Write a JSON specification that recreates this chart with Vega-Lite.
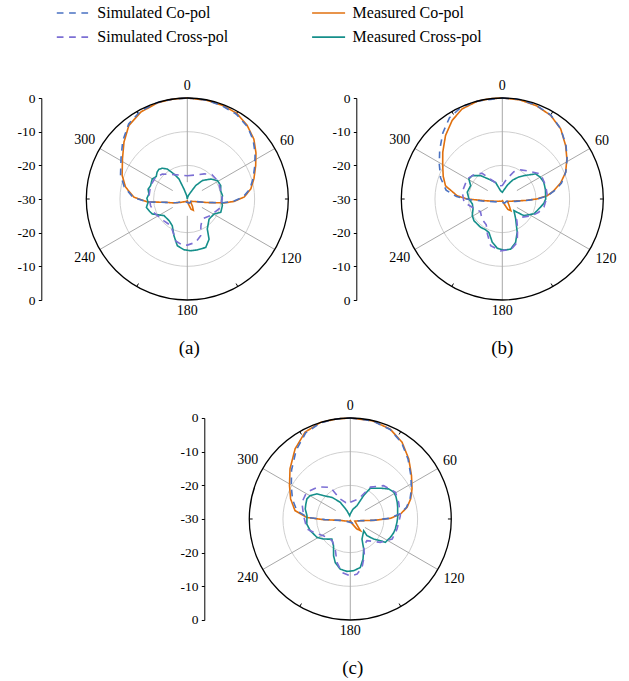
{
"$schema": "https://vega.github.io/schema/vega-lite/v6.json",
"background": "white",
"padding": {"left": 16.3, "top": 1, "right": 2, "bottom": 2},
"config": {
  "view": {"stroke": null},
  "font": "Liberation Serif",
  "title": {"font": "Liberation Serif", "fontSize": 19, "fontWeight": "normal", "color": "black", "anchor": "middle", "frame": "group"},
  "axisY": {"values": [-30,-25,-20,-15,-10,-5,0,5,10,15,20,25,30], "labelExpr": "datum.value % 10 == 0 ? '' + (abs(datum.value) - 30) : ''", "tickSize": 3, "labelPadding": 3.4, "grid": false, "labelFlush": false, "labelOverlap": false, "labelBound": false, "domainColor": "black", "tickColor": "black", "labelColor": "black", "labelFont": "Liberation Serif", "labelFontSize": 13.5, "domainWidth": 1, "tickWidth": 1},
  "legend": {"orient": "none", "legendX": -25, "legendY": -97, "columns": 2, "columnPadding": 79.3, "rowPadding": 4.2, "labelFont": "Liberation Serif", "labelFontSize": 16, "labelColor": "black", "symbolSize": 484, "symbolStrokeWidth": 1.7, "labelOffset": 12, "padding": 0, "labelLimit": 400}
},
"datasets": {
  "rings": [{"ring": -20}, {"ring": -10}, {"ring": 0}],
  "spokes": [{"ang": 0}, {"ang": 60}, {"ang": 120}, {"ang": 180}, {"ang": 240}, {"ang": 300}],
  "ticks": [{"ang": 30}, {"ang": 90}, {"ang": 150}, {"ang": 210}, {"ang": 270}, {"ang": 330}],
  "curves": [
{"p":"a","s":"Measured Co-pol","a":0,"d":0},{"p":"a","s":"Measured Co-pol","a":11,"d":-0.1},{"p":"a","s":"Measured Co-pol","a":21,"d":-0.3},{"p":"a","s":"Measured Co-pol","a":30,"d":-0.6},{"p":"a","s":"Measured Co-pol","a":39,"d":-1.8},{"p":"a","s":"Measured Co-pol","a":48,"d":-3.4},{"p":"a","s":"Measured Co-pol","a":56,"d":-5.4},{"p":"a","s":"Measured Co-pol","a":64,"d":-7.4},{"p":"a","s":"Measured Co-pol","a":73,"d":-9.3},{"p":"a","s":"Measured Co-pol","a":81,"d":-10.9},{"p":"a","s":"Measured Co-pol","a":88,"d":-13.1},{"p":"a","s":"Measured Co-pol","a":93,"d":-16.1},{"p":"a","s":"Measured Co-pol","a":96,"d":-19},{"p":"a","s":"Measured Co-pol","a":100,"d":-23.9},{"p":"a","s":"Measured Co-pol","a":105,"d":-26.9},{"p":"a","s":"Measured Co-pol","a":120,"d":-28.6},{"p":"a","s":"Measured Co-pol","a":135,"d":-28.5},{"p":"a","s":"Measured Co-pol","a":145,"d":-27.3},{"p":"a","s":"Measured Co-pol","a":152,"d":-26.2},{"p":"a","s":"Measured Co-pol","a":160,"d":-26.8},{"p":"a","s":"Measured Co-pol","a":168,"d":-28.5},{"p":"a","s":"Measured Co-pol","a":180,"d":-29.5},{"p":"a","s":"Measured Co-pol","a":200,"d":-29.2},{"p":"a","s":"Measured Co-pol","a":220,"d":-29},{"p":"a","s":"Measured Co-pol","a":243,"d":-27.8},{"p":"a","s":"Measured Co-pol","a":255,"d":-25.5},{"p":"a","s":"Measured Co-pol","a":260.5,"d":-23.9},{"p":"a","s":"Measured Co-pol","a":266,"d":-18},{"p":"a","s":"Measured Co-pol","a":272,"d":-14.1},{"p":"a","s":"Measured Co-pol","a":281,"d":-11.3},{"p":"a","s":"Measured Co-pol","a":290,"d":-9.4},{"p":"a","s":"Measured Co-pol","a":302,"d":-7.3},{"p":"a","s":"Measured Co-pol","a":312,"d":-4.7},{"p":"a","s":"Measured Co-pol","a":321.5,"d":-2.1},{"p":"a","s":"Measured Co-pol","a":332,"d":-0.7},{"p":"a","s":"Measured Co-pol","a":343,"d":-0.1},{"p":"a","s":"Measured Co-pol","a":352,"d":0},
{"p":"a","s":"Measured Cross-pol","a":0,"d":-30},{"p":"a","s":"Measured Cross-pol","a":10,"d":-29.5},{"p":"a","s":"Measured Cross-pol","a":20,"d":-28.7},{"p":"a","s":"Measured Cross-pol","a":26.6,"d":-27.8},{"p":"a","s":"Measured Cross-pol","a":32,"d":-25.3},{"p":"a","s":"Measured Cross-pol","a":39.3,"d":-22.9},{"p":"a","s":"Measured Cross-pol","a":49.4,"d":-20.9},{"p":"a","s":"Measured Cross-pol","a":58.6,"d":-19.5},{"p":"a","s":"Measured Cross-pol","a":68.2,"d":-19.3},{"p":"a","s":"Measured Cross-pol","a":76,"d":-19.8},{"p":"a","s":"Measured Cross-pol","a":84.6,"d":-19.5},{"p":"a","s":"Measured Cross-pol","a":92,"d":-19.8},{"p":"a","s":"Measured Cross-pol","a":100.8,"d":-19.4},{"p":"a","s":"Measured Cross-pol","a":111.8,"d":-19.3},{"p":"a","s":"Measured Cross-pol","a":119.4,"d":-20.9},{"p":"a","s":"Measured Cross-pol","a":132.7,"d":-21.2},{"p":"a","s":"Measured Cross-pol","a":146.3,"d":-19.3},{"p":"a","s":"Measured Cross-pol","a":151.6,"d":-16.4},{"p":"a","s":"Measured Cross-pol","a":159.2,"d":-14.6},{"p":"a","s":"Measured Cross-pol","a":168.8,"d":-14.6},{"p":"a","s":"Measured Cross-pol","a":176.3,"d":-14.6},{"p":"a","s":"Measured Cross-pol","a":183.8,"d":-14.9},{"p":"a","s":"Measured Cross-pol","a":192,"d":-15.8},{"p":"a","s":"Measured Cross-pol","a":200,"d":-18.4},{"p":"a","s":"Measured Cross-pol","a":209.4,"d":-20.9},{"p":"a","s":"Measured Cross-pol","a":220,"d":-21.6},{"p":"a","s":"Measured Cross-pol","a":234.5,"d":-21.5},{"p":"a","s":"Measured Cross-pol","a":246.8,"d":-18.7},{"p":"a","s":"Measured Cross-pol","a":252,"d":-18.2},{"p":"a","s":"Measured Cross-pol","a":258.4,"d":-17.6},{"p":"a","s":"Measured Cross-pol","a":265,"d":-18.3},{"p":"a","s":"Measured Cross-pol","a":271,"d":-18},{"p":"a","s":"Measured Cross-pol","a":277.4,"d":-18.5},{"p":"a","s":"Measured Cross-pol","a":284,"d":-18},{"p":"a","s":"Measured Cross-pol","a":290,"d":-18.4},{"p":"a","s":"Measured Cross-pol","a":299.7,"d":-18},{"p":"a","s":"Measured Cross-pol","a":306,"d":-18.6},{"p":"a","s":"Measured Cross-pol","a":311.6,"d":-18},{"p":"a","s":"Measured Cross-pol","a":316,"d":-17.8},{"p":"a","s":"Measured Cross-pol","a":320.8,"d":-18.2},{"p":"a","s":"Measured Cross-pol","a":326.3,"d":-19.3},{"p":"a","s":"Measured Cross-pol","a":331.9,"d":-21.6},{"p":"a","s":"Measured Cross-pol","a":337.4,"d":-23.5},{"p":"a","s":"Measured Cross-pol","a":341.6,"d":-26.9},{"p":"a","s":"Measured Cross-pol","a":350,"d":-29},
{"p":"a","s":"Simulated Co-pol","a":0,"d":0},{"p":"a","s":"Simulated Co-pol","a":10,"d":-0.1},{"p":"a","s":"Simulated Co-pol","a":20,"d":-0.4},{"p":"a","s":"Simulated Co-pol","a":30,"d":-0.9},{"p":"a","s":"Simulated Co-pol","a":40,"d":-2.1},{"p":"a","s":"Simulated Co-pol","a":48,"d":-3.7},{"p":"a","s":"Simulated Co-pol","a":56,"d":-5.7},{"p":"a","s":"Simulated Co-pol","a":64,"d":-7.7},{"p":"a","s":"Simulated Co-pol","a":73,"d":-9.6},{"p":"a","s":"Simulated Co-pol","a":81,"d":-11.2},{"p":"a","s":"Simulated Co-pol","a":88,"d":-13.4},{"p":"a","s":"Simulated Co-pol","a":93,"d":-16.4},{"p":"a","s":"Simulated Co-pol","a":96,"d":-19.3},{"p":"a","s":"Simulated Co-pol","a":100,"d":-24},{"p":"a","s":"Simulated Co-pol","a":105,"d":-27},{"p":"a","s":"Simulated Co-pol","a":120,"d":-28.7},{"p":"a","s":"Simulated Co-pol","a":150,"d":-28.6},{"p":"a","s":"Simulated Co-pol","a":180,"d":-29},{"p":"a","s":"Simulated Co-pol","a":210,"d":-29},{"p":"a","s":"Simulated Co-pol","a":240,"d":-28.5},{"p":"a","s":"Simulated Co-pol","a":250,"d":-27},{"p":"a","s":"Simulated Co-pol","a":255,"d":-25.6},{"p":"a","s":"Simulated Co-pol","a":261,"d":-23.6},{"p":"a","s":"Simulated Co-pol","a":266,"d":-17.8},{"p":"a","s":"Simulated Co-pol","a":272,"d":-13.8},{"p":"a","s":"Simulated Co-pol","a":281,"d":-10.9},{"p":"a","s":"Simulated Co-pol","a":290,"d":-8.9},{"p":"a","s":"Simulated Co-pol","a":302,"d":-6.8},{"p":"a","s":"Simulated Co-pol","a":312,"d":-4.2},{"p":"a","s":"Simulated Co-pol","a":322,"d":-1.7},{"p":"a","s":"Simulated Co-pol","a":332,"d":-0.4},{"p":"a","s":"Simulated Co-pol","a":343,"d":0},{"p":"a","s":"Simulated Co-pol","a":352,"d":0},
{"p":"a","s":"Simulated Cross-pol","a":0,"d":-23.1},{"p":"a","s":"Simulated Cross-pol","a":20,"d":-22.4},{"p":"a","s":"Simulated Cross-pol","a":34,"d":-21},{"p":"a","s":"Simulated Cross-pol","a":45,"d":-19.7},{"p":"a","s":"Simulated Cross-pol","a":55,"d":-19.6},{"p":"a","s":"Simulated Cross-pol","a":65,"d":-19.6},{"p":"a","s":"Simulated Cross-pol","a":76,"d":-19.8},{"p":"a","s":"Simulated Cross-pol","a":90,"d":-19.6},{"p":"a","s":"Simulated Cross-pol","a":107,"d":-20.1},{"p":"a","s":"Simulated Cross-pol","a":125,"d":-21.5},{"p":"a","s":"Simulated Cross-pol","a":143,"d":-22.6},{"p":"a","s":"Simulated Cross-pol","a":153,"d":-21.1},{"p":"a","s":"Simulated Cross-pol","a":160,"d":-18.4},{"p":"a","s":"Simulated Cross-pol","a":169,"d":-16.9},{"p":"a","s":"Simulated Cross-pol","a":180,"d":-16.3},{"p":"a","s":"Simulated Cross-pol","a":186,"d":-16.2},{"p":"a","s":"Simulated Cross-pol","a":196,"d":-17.1},{"p":"a","s":"Simulated Cross-pol","a":201,"d":-18.8},{"p":"a","s":"Simulated Cross-pol","a":212,"d":-20.7},{"p":"a","s":"Simulated Cross-pol","a":227,"d":-20.5},{"p":"a","s":"Simulated Cross-pol","a":248,"d":-19.3},{"p":"a","s":"Simulated Cross-pol","a":260,"d":-18.9},{"p":"a","s":"Simulated Cross-pol","a":275,"d":-18.6},{"p":"a","s":"Simulated Cross-pol","a":290,"d":-18.4},{"p":"a","s":"Simulated Cross-pol","a":304,"d":-18.6},{"p":"a","s":"Simulated Cross-pol","a":315,"d":-19.5},{"p":"a","s":"Simulated Cross-pol","a":332,"d":-21.8},{"p":"a","s":"Simulated Cross-pol","a":345,"d":-22.7},
{"p":"b","s":"Measured Co-pol","a":0,"d":0},{"p":"b","s":"Measured Co-pol","a":10,"d":-0.1},{"p":"b","s":"Measured Co-pol","a":20,"d":-0.5},{"p":"b","s":"Measured Co-pol","a":30,"d":-1.3},{"p":"b","s":"Measured Co-pol","a":39.8,"d":-2.9},{"p":"b","s":"Measured Co-pol","a":49.9,"d":-5.4},{"p":"b","s":"Measured Co-pol","a":58.1,"d":-7.4},{"p":"b","s":"Measured Co-pol","a":67.2,"d":-9.6},{"p":"b","s":"Measured Co-pol","a":74.5,"d":-12},{"p":"b","s":"Measured Co-pol","a":81.1,"d":-14.6},{"p":"b","s":"Measured Co-pol","a":85.8,"d":-16.6},{"p":"b","s":"Measured Co-pol","a":90,"d":-19.8},{"p":"b","s":"Measured Co-pol","a":93.5,"d":-23},{"p":"b","s":"Measured Co-pol","a":100,"d":-26.5},{"p":"b","s":"Measured Co-pol","a":115,"d":-28.3},{"p":"b","s":"Measured Co-pol","a":130,"d":-27.5},{"p":"b","s":"Measured Co-pol","a":144,"d":-25.7},{"p":"b","s":"Measured Co-pol","a":152,"d":-26.5},{"p":"b","s":"Measured Co-pol","a":160,"d":-28.5},{"p":"b","s":"Measured Co-pol","a":175,"d":-29.5},{"p":"b","s":"Measured Co-pol","a":200,"d":-29.3},{"p":"b","s":"Measured Co-pol","a":230,"d":-29},{"p":"b","s":"Measured Co-pol","a":250,"d":-28},{"p":"b","s":"Measured Co-pol","a":264,"d":-25},{"p":"b","s":"Measured Co-pol","a":270,"d":-19.6},{"p":"b","s":"Measured Co-pol","a":274,"d":-16.6},{"p":"b","s":"Measured Co-pol","a":283,"d":-12.7},{"p":"b","s":"Measured Co-pol","a":291,"d":-11.2},{"p":"b","s":"Measured Co-pol","a":299.3,"d":-9.7},{"p":"b","s":"Measured Co-pol","a":308.2,"d":-7.5},{"p":"b","s":"Measured Co-pol","a":318.2,"d":-4.7},{"p":"b","s":"Measured Co-pol","a":327.5,"d":-2.3},{"p":"b","s":"Measured Co-pol","a":336,"d":-0.7},{"p":"b","s":"Measured Co-pol","a":346,"d":0},{"p":"b","s":"Measured Co-pol","a":353,"d":0},
{"p":"b","s":"Measured Cross-pol","a":0,"d":-28},{"p":"b","s":"Measured Cross-pol","a":10,"d":-27.3},{"p":"b","s":"Measured Cross-pol","a":20.6,"d":-25.5},{"p":"b","s":"Measured Cross-pol","a":28.6,"d":-23.6},{"p":"b","s":"Measured Cross-pol","a":36.9,"d":-21.8},{"p":"b","s":"Measured Cross-pol","a":43,"d":-20.5},{"p":"b","s":"Measured Cross-pol","a":53,"d":-17.6},{"p":"b","s":"Measured Cross-pol","a":60,"d":-17},{"p":"b","s":"Measured Cross-pol","a":68,"d":-16.7},{"p":"b","s":"Measured Cross-pol","a":78,"d":-16.9},{"p":"b","s":"Measured Cross-pol","a":90,"d":-17.1},{"p":"b","s":"Measured Cross-pol","a":96,"d":-17.6},{"p":"b","s":"Measured Cross-pol","a":102,"d":-18.4},{"p":"b","s":"Measured Cross-pol","a":115,"d":-19.6},{"p":"b","s":"Measured Cross-pol","a":127.6,"d":-21.9},{"p":"b","s":"Measured Cross-pol","a":135,"d":-25.1},{"p":"b","s":"Measured Cross-pol","a":146,"d":-22.9},{"p":"b","s":"Measured Cross-pol","a":155.8,"d":-19.2},{"p":"b","s":"Measured Cross-pol","a":163,"d":-16.5},{"p":"b","s":"Measured Cross-pol","a":170.6,"d":-14.9},{"p":"b","s":"Measured Cross-pol","a":178,"d":-14.8},{"p":"b","s":"Measured Cross-pol","a":185.8,"d":-15.3},{"p":"b","s":"Measured Cross-pol","a":193,"d":-16.8},{"p":"b","s":"Measured Cross-pol","a":201.8,"d":-19.3},{"p":"b","s":"Measured Cross-pol","a":209,"d":-19.6},{"p":"b","s":"Measured Cross-pol","a":217.5,"d":-19.4},{"p":"b","s":"Measured Cross-pol","a":232.5,"d":-19.4},{"p":"b","s":"Measured Cross-pol","a":241,"d":-19.8},{"p":"b","s":"Measured Cross-pol","a":251,"d":-20.8},{"p":"b","s":"Measured Cross-pol","a":260.5,"d":-21},{"p":"b","s":"Measured Cross-pol","a":270,"d":-20.1},{"p":"b","s":"Measured Cross-pol","a":281,"d":-19.4},{"p":"b","s":"Measured Cross-pol","a":293,"d":-19.8},{"p":"b","s":"Measured Cross-pol","a":301,"d":-18.4},{"p":"b","s":"Measured Cross-pol","a":308,"d":-18.7},{"p":"b","s":"Measured Cross-pol","a":317,"d":-20.5},{"p":"b","s":"Measured Cross-pol","a":326,"d":-22.9},{"p":"b","s":"Measured Cross-pol","a":338,"d":-24.7},{"p":"b","s":"Measured Cross-pol","a":348,"d":-27.5},
{"p":"b","s":"Simulated Co-pol","a":0,"d":0},{"p":"b","s":"Simulated Co-pol","a":10,"d":0},{"p":"b","s":"Simulated Co-pol","a":20,"d":-0.4},{"p":"b","s":"Simulated Co-pol","a":30,"d":-1.2},{"p":"b","s":"Simulated Co-pol","a":40,"d":-2.9},{"p":"b","s":"Simulated Co-pol","a":50,"d":-5.3},{"p":"b","s":"Simulated Co-pol","a":58,"d":-7.3},{"p":"b","s":"Simulated Co-pol","a":67,"d":-9.5},{"p":"b","s":"Simulated Co-pol","a":75,"d":-11.8},{"p":"b","s":"Simulated Co-pol","a":81,"d":-14.3},{"p":"b","s":"Simulated Co-pol","a":86,"d":-16.6},{"p":"b","s":"Simulated Co-pol","a":90,"d":-19.6},{"p":"b","s":"Simulated Co-pol","a":94,"d":-23.3},{"p":"b","s":"Simulated Co-pol","a":100,"d":-26},{"p":"b","s":"Simulated Co-pol","a":120,"d":-28.6},{"p":"b","s":"Simulated Co-pol","a":150,"d":-28.6},{"p":"b","s":"Simulated Co-pol","a":180,"d":-29},{"p":"b","s":"Simulated Co-pol","a":210,"d":-29},{"p":"b","s":"Simulated Co-pol","a":240,"d":-28.3},{"p":"b","s":"Simulated Co-pol","a":262,"d":-25},{"p":"b","s":"Simulated Co-pol","a":269,"d":-20.2},{"p":"b","s":"Simulated Co-pol","a":273,"d":-16.4},{"p":"b","s":"Simulated Co-pol","a":279,"d":-13.1},{"p":"b","s":"Simulated Co-pol","a":289,"d":-10.6},{"p":"b","s":"Simulated Co-pol","a":299,"d":-8.6},{"p":"b","s":"Simulated Co-pol","a":308,"d":-6.4},{"p":"b","s":"Simulated Co-pol","a":318,"d":-3.6},{"p":"b","s":"Simulated Co-pol","a":327,"d":-1.2},{"p":"b","s":"Simulated Co-pol","a":336,"d":-0.1},{"p":"b","s":"Simulated Co-pol","a":346,"d":0},
{"p":"b","s":"Simulated Cross-pol","a":0,"d":-26},{"p":"b","s":"Simulated Cross-pol","a":12,"d":-24},{"p":"b","s":"Simulated Cross-pol","a":23,"d":-21.2},{"p":"b","s":"Simulated Cross-pol","a":32,"d":-19.8},{"p":"b","s":"Simulated Cross-pol","a":41.5,"d":-18.8},{"p":"b","s":"Simulated Cross-pol","a":57,"d":-16.4},{"p":"b","s":"Simulated Cross-pol","a":73,"d":-16.5},{"p":"b","s":"Simulated Cross-pol","a":86,"d":-16.6},{"p":"b","s":"Simulated Cross-pol","a":101,"d":-17.4},{"p":"b","s":"Simulated Cross-pol","a":110,"d":-18.5},{"p":"b","s":"Simulated Cross-pol","a":119,"d":-19.8},{"p":"b","s":"Simulated Cross-pol","a":135,"d":-22.3},{"p":"b","s":"Simulated Cross-pol","a":145,"d":-22.5},{"p":"b","s":"Simulated Cross-pol","a":153,"d":-20},{"p":"b","s":"Simulated Cross-pol","a":161,"d":-16.4},{"p":"b","s":"Simulated Cross-pol","a":170,"d":-14.8},{"p":"b","s":"Simulated Cross-pol","a":182,"d":-14.6},{"p":"b","s":"Simulated Cross-pol","a":194,"d":-15.7},{"p":"b","s":"Simulated Cross-pol","a":203,"d":-18.7},{"p":"b","s":"Simulated Cross-pol","a":212,"d":-21},{"p":"b","s":"Simulated Cross-pol","a":225,"d":-21.5},{"p":"b","s":"Simulated Cross-pol","a":240,"d":-22.5},{"p":"b","s":"Simulated Cross-pol","a":249,"d":-21.5},{"p":"b","s":"Simulated Cross-pol","a":265,"d":-18.6},{"p":"b","s":"Simulated Cross-pol","a":280,"d":-17.9},{"p":"b","s":"Simulated Cross-pol","a":300,"d":-18},{"p":"b","s":"Simulated Cross-pol","a":312,"d":-19},{"p":"b","s":"Simulated Cross-pol","a":322,"d":-20.3},{"p":"b","s":"Simulated Cross-pol","a":333,"d":-24},{"p":"b","s":"Simulated Cross-pol","a":348,"d":-26},
{"p":"c","s":"Measured Co-pol","a":0,"d":0},{"p":"c","s":"Measured Co-pol","a":13,"d":-0.1},{"p":"c","s":"Measured Co-pol","a":24,"d":-0.8},{"p":"c","s":"Measured Co-pol","a":34,"d":-2.5},{"p":"c","s":"Measured Co-pol","a":44.2,"d":-5.1},{"p":"c","s":"Measured Co-pol","a":54.6,"d":-7.7},{"p":"c","s":"Measured Co-pol","a":64,"d":-9.6},{"p":"c","s":"Measured Co-pol","a":71.6,"d":-11.1},{"p":"c","s":"Measured Co-pol","a":78.4,"d":-12.8},{"p":"c","s":"Measured Co-pol","a":84.3,"d":-15},{"p":"c","s":"Measured Co-pol","a":89,"d":-18},{"p":"c","s":"Measured Co-pol","a":93.3,"d":-23},{"p":"c","s":"Measured Co-pol","a":99.5,"d":-27},{"p":"c","s":"Measured Co-pol","a":115,"d":-28.5},{"p":"c","s":"Measured Co-pol","a":130,"d":-27.5},{"p":"c","s":"Measured Co-pol","a":139,"d":-25.4},{"p":"c","s":"Measured Co-pol","a":147,"d":-26.5},{"p":"c","s":"Measured Co-pol","a":158,"d":-28.5},{"p":"c","s":"Measured Co-pol","a":175,"d":-29.5},{"p":"c","s":"Measured Co-pol","a":200,"d":-29.3},{"p":"c","s":"Measured Co-pol","a":230,"d":-29},{"p":"c","s":"Measured Co-pol","a":250,"d":-28.3},{"p":"c","s":"Measured Co-pol","a":262,"d":-27},{"p":"c","s":"Measured Co-pol","a":268.6,"d":-22.1},{"p":"c","s":"Measured Co-pol","a":272,"d":-17.1},{"p":"c","s":"Measured Co-pol","a":278.6,"d":-13.4},{"p":"c","s":"Measured Co-pol","a":288.6,"d":-11.3},{"p":"c","s":"Measured Co-pol","a":298.8,"d":-9.4},{"p":"c","s":"Measured Co-pol","a":309.8,"d":-6.7},{"p":"c","s":"Measured Co-pol","a":321.8,"d":-3.5},{"p":"c","s":"Measured Co-pol","a":332.6,"d":-0.9},{"p":"c","s":"Measured Co-pol","a":342.8,"d":0},{"p":"c","s":"Measured Co-pol","a":352,"d":0},
{"p":"c","s":"Measured Cross-pol","a":0,"d":-28.5},{"p":"c","s":"Measured Cross-pol","a":15,"d":-27},{"p":"c","s":"Measured Cross-pol","a":26.6,"d":-25.6},{"p":"c","s":"Measured Cross-pol","a":29.7,"d":-22},{"p":"c","s":"Measured Cross-pol","a":33.1,"d":-19.1},{"p":"c","s":"Measured Cross-pol","a":44.4,"d":-17.2},{"p":"c","s":"Measured Cross-pol","a":52,"d":-15.5},{"p":"c","s":"Measured Cross-pol","a":58.4,"d":-14.8},{"p":"c","s":"Measured Cross-pol","a":64,"d":-14.9},{"p":"c","s":"Measured Cross-pol","a":70.3,"d":-15.2},{"p":"c","s":"Measured Cross-pol","a":76,"d":-15.5},{"p":"c","s":"Measured Cross-pol","a":82,"d":-15.8},{"p":"c","s":"Measured Cross-pol","a":88,"d":-15.9},{"p":"c","s":"Measured Cross-pol","a":94,"d":-16.1},{"p":"c","s":"Measured Cross-pol","a":102.5,"d":-16.3},{"p":"c","s":"Measured Cross-pol","a":108,"d":-16.5},{"p":"c","s":"Measured Cross-pol","a":114.6,"d":-16.9},{"p":"c","s":"Measured Cross-pol","a":123.7,"d":-17.5},{"p":"c","s":"Measured Cross-pol","a":125.8,"d":-19},{"p":"c","s":"Measured Cross-pol","a":130.6,"d":-20.9},{"p":"c","s":"Measured Cross-pol","a":135,"d":-23},{"p":"c","s":"Measured Cross-pol","a":131,"d":-24.7},{"p":"c","s":"Measured Cross-pol","a":149.7,"d":-23.1},{"p":"c","s":"Measured Cross-pol","a":156,"d":-20.2},{"p":"c","s":"Measured Cross-pol","a":162.4,"d":-17.5},{"p":"c","s":"Measured Cross-pol","a":168.3,"d":-15.3},{"p":"c","s":"Measured Cross-pol","a":176.3,"d":-14.6},{"p":"c","s":"Measured Cross-pol","a":183.6,"d":-14.4},{"p":"c","s":"Measured Cross-pol","a":191.3,"d":-14.8},{"p":"c","s":"Measured Cross-pol","a":199,"d":-16.3},{"p":"c","s":"Measured Cross-pol","a":204.4,"d":-18},{"p":"c","s":"Measured Cross-pol","a":212,"d":-20.6},{"p":"c","s":"Measured Cross-pol","a":222.5,"d":-21.9},{"p":"c","s":"Measured Cross-pol","a":233,"d":-20.1},{"p":"c","s":"Measured Cross-pol","a":241.2,"d":-18.7},{"p":"c","s":"Measured Cross-pol","a":247,"d":-18.3},{"p":"c","s":"Measured Cross-pol","a":253.7,"d":-17.6},{"p":"c","s":"Measured Cross-pol","a":263.4,"d":-17},{"p":"c","s":"Measured Cross-pol","a":274.4,"d":-17.1},{"p":"c","s":"Measured Cross-pol","a":282.5,"d":-16.3},{"p":"c","s":"Measured Cross-pol","a":288,"d":-16.1},{"p":"c","s":"Measured Cross-pol","a":294.8,"d":-15.8},{"p":"c","s":"Measured Cross-pol","a":300.3,"d":-16.2},{"p":"c","s":"Measured Cross-pol","a":306.9,"d":-17.6},{"p":"c","s":"Measured Cross-pol","a":311.2,"d":-19.5},{"p":"c","s":"Measured Cross-pol","a":319.8,"d":-21.6},{"p":"c","s":"Measured Cross-pol","a":329,"d":-24.2},{"p":"c","s":"Measured Cross-pol","a":338,"d":-27.3},{"p":"c","s":"Measured Cross-pol","a":350,"d":-29},
{"p":"c","s":"Simulated Co-pol","a":0,"d":0},{"p":"c","s":"Simulated Co-pol","a":13,"d":-0.1},{"p":"c","s":"Simulated Co-pol","a":24,"d":-0.9},{"p":"c","s":"Simulated Co-pol","a":34,"d":-2.7},{"p":"c","s":"Simulated Co-pol","a":44,"d":-5.3},{"p":"c","s":"Simulated Co-pol","a":54.6,"d":-7.9},{"p":"c","s":"Simulated Co-pol","a":64,"d":-9.8},{"p":"c","s":"Simulated Co-pol","a":71.6,"d":-11.3},{"p":"c","s":"Simulated Co-pol","a":78.4,"d":-13},{"p":"c","s":"Simulated Co-pol","a":84.3,"d":-15.3},{"p":"c","s":"Simulated Co-pol","a":89,"d":-18.5},{"p":"c","s":"Simulated Co-pol","a":93,"d":-23},{"p":"c","s":"Simulated Co-pol","a":100,"d":-27},{"p":"c","s":"Simulated Co-pol","a":120,"d":-28.7},{"p":"c","s":"Simulated Co-pol","a":150,"d":-28.6},{"p":"c","s":"Simulated Co-pol","a":180,"d":-29},{"p":"c","s":"Simulated Co-pol","a":210,"d":-29},{"p":"c","s":"Simulated Co-pol","a":240,"d":-28.6},{"p":"c","s":"Simulated Co-pol","a":262,"d":-27},{"p":"c","s":"Simulated Co-pol","a":268.6,"d":-22.5},{"p":"c","s":"Simulated Co-pol","a":272,"d":-17.5},{"p":"c","s":"Simulated Co-pol","a":278.6,"d":-14},{"p":"c","s":"Simulated Co-pol","a":288.6,"d":-11.9},{"p":"c","s":"Simulated Co-pol","a":298.8,"d":-10},{"p":"c","s":"Simulated Co-pol","a":309.8,"d":-7.3},{"p":"c","s":"Simulated Co-pol","a":321.8,"d":-4},{"p":"c","s":"Simulated Co-pol","a":332.6,"d":-1.2},{"p":"c","s":"Simulated Co-pol","a":342.8,"d":-0.1},{"p":"c","s":"Simulated Co-pol","a":352,"d":0},
{"p":"c","s":"Simulated Cross-pol","a":0,"d":-25},{"p":"c","s":"Simulated Cross-pol","a":22.6,"d":-23.5},{"p":"c","s":"Simulated Cross-pol","a":32.3,"d":-18.8},{"p":"c","s":"Simulated Cross-pol","a":45,"d":-16},{"p":"c","s":"Simulated Cross-pol","a":59.3,"d":-14.4},{"p":"c","s":"Simulated Cross-pol","a":71,"d":-14.8},{"p":"c","s":"Simulated Cross-pol","a":86.2,"d":-15.1},{"p":"c","s":"Simulated Cross-pol","a":102,"d":-15.8},{"p":"c","s":"Simulated Cross-pol","a":115.6,"d":-16.2},{"p":"c","s":"Simulated Cross-pol","a":127.9,"d":-18.7},{"p":"c","s":"Simulated Cross-pol","a":142.4,"d":-21.9},{"p":"c","s":"Simulated Cross-pol","a":153.4,"d":-21.1},{"p":"c","s":"Simulated Cross-pol","a":159,"d":-18.3},{"p":"c","s":"Simulated Cross-pol","a":166.4,"d":-15.2},{"p":"c","s":"Simulated Cross-pol","a":173,"d":-13.5},{"p":"c","s":"Simulated Cross-pol","a":180,"d":-13.1},{"p":"c","s":"Simulated Cross-pol","a":188.9,"d":-13.9},{"p":"c","s":"Simulated Cross-pol","a":197,"d":-16.5},{"p":"c","s":"Simulated Cross-pol","a":206.6,"d":-20},{"p":"c","s":"Simulated Cross-pol","a":220,"d":-21.6},{"p":"c","s":"Simulated Cross-pol","a":238,"d":-20.6},{"p":"c","s":"Simulated Cross-pol","a":250,"d":-18.4},{"p":"c","s":"Simulated Cross-pol","a":257,"d":-16.8},{"p":"c","s":"Simulated Cross-pol","a":274,"d":-16.1},{"p":"c","s":"Simulated Cross-pol","a":289,"d":-14.8},{"p":"c","s":"Simulated Cross-pol","a":301.6,"d":-14.8},{"p":"c","s":"Simulated Cross-pol","a":315,"d":-16.5},{"p":"c","s":"Simulated Cross-pol","a":327.7,"d":-18.9},{"p":"c","s":"Simulated Cross-pol","a":333,"d":-23.3},{"p":"c","s":"Simulated Cross-pol","a":345,"d":-25}
  ]
},
"spacing": 320,
"bounds": "flush",
"vconcat": [
 {"hconcat": [
  {
   "width": 202, "height": 202,
   "title": {"text": "(a)", "orient": "bottom", "dx": 2, "offset": 21},
   "encoding": {
     "x": {"field": "x", "type": "quantitative", "scale": {"domain": [-30, 30], "nice": false, "zero": false}, "axis": null},
     "y": {"field": "y", "type": "quantitative", "scale": {"domain": [-30, 30], "nice": false, "zero": false}, "axis": {"offset": 45, "title": null}}
   },
   "layer": [
     {"data": {"name": "rings"}, "transform": [{"filter": "datum.ring < 0"}, {"calculate": "0", "as": "x"}, {"calculate": "0", "as": "y"}, {"calculate": "datum.ring + 30", "as": "rr"}], "mark": {"type": "point", "shape": "circle", "filled": false, "stroke": "#cfcfcf", "strokeWidth": 1, "opacity": 1}, "encoding": {"size": {"field": "rr", "type": "quantitative", "scale": {"type": "pow", "exponent": 2, "domain": [0, 30], "range": [0, 40804]}, "legend": null}}},
     {"data": {"name": "spokes"}, "transform": [{"calculate": "datum.ang * PI / 180", "as": "t"}, {"calculate": "5 * sin(datum.t)", "as": "x"}, {"calculate": "5 * cos(datum.t)", "as": "y"}, {"calculate": "30 * sin(datum.t)", "as": "x2"}, {"calculate": "30 * cos(datum.t)", "as": "y2"}], "mark": {"type": "rule", "color": "#a8a8a8", "strokeWidth": 1}, "encoding": {"x2": {"field": "x2"}, "y2": {"field": "y2"}}},
     {"data": {"name": "ticks"}, "transform": [{"calculate": "datum.ang * PI / 180", "as": "t"}, {"calculate": "29 * sin(datum.t)", "as": "x"}, {"calculate": "29 * cos(datum.t)", "as": "y"}, {"calculate": "30 * sin(datum.t)", "as": "x2"}, {"calculate": "30 * cos(datum.t)", "as": "y2"}], "mark": {"type": "rule", "color": "black", "strokeWidth": 1}, "encoding": {"x2": {"field": "x2"}, "y2": {"field": "y2"}}},
     {"data": {"name": "curves"}, "transform": [{"filter": "datum.p == 'a'"}, {"calculate": "max(0, datum.d + 30)", "as": "rr"}, {"calculate": "datum.rr * sin(datum.a * PI / 180)", "as": "x"}, {"calculate": "datum.rr * cos(datum.a * PI / 180)", "as": "y"}],
      "mark": {"type": "line", "strokeWidth": 1.6, "interpolate": "linear-closed"},
      "encoding": {
        "color": {"field": "s", "type": "nominal", "scale": {"domain": ["Simulated Co-pol", "Simulated Cross-pol", "Measured Co-pol", "Measured Cross-pol"], "range": ["#4a72c2", "#7c6fd4", "#e0700e", "#158f8a"]}, "legend": {"title": null, "symbolType": "M-1.5,0H1.5"}},
        "strokeDash": {"field": "s", "type": "nominal", "scale": {"domain": ["Simulated Co-pol", "Simulated Cross-pol", "Measured Co-pol", "Measured Cross-pol"], "range": [[6.7, 5.6], [6.7, 5.6], [1, 0], [1, 0]]}, "legend": {"title": null, "symbolType": "M-1.5,0H1.5"}},
        "order": {"value": null}
      }},
     {"data": {"name": "rings"}, "transform": [{"filter": "datum.ring == 0"}, {"calculate": "0", "as": "x"}, {"calculate": "0", "as": "y"}, {"calculate": "datum.ring + 30", "as": "rr"}], "mark": {"type": "point", "shape": "circle", "filled": false, "stroke": "black", "strokeWidth": 1.3, "opacity": 1}, "encoding": {"size": {"field": "rr", "type": "quantitative", "scale": {"type": "pow", "exponent": 2, "domain": [0, 30], "range": [0, 40804]}, "legend": null}}},
     {"data": {"name": "spokes"}, "transform": [{"calculate": "datum.ang * PI / 180", "as": "t"}, {"calculate": "datum.ang == 0 ? 33.6 : datum.ang == 180 ? 33.2 : datum.ang == 60 ? 34.2 : datum.ang == 120 ? 35.6 : 35.2", "as": "lr"}, {"calculate": "datum.lr * sin(datum.t)", "as": "x"}, {"calculate": "datum.lr * cos(datum.t)", "as": "y"}], "mark": {"type": "text", "font": "Liberation Serif", "fontSize": 14, "color": "black", "align": "center", "baseline": "middle"}, "encoding": {"text": {"field": "ang", "type": "nominal"}}}
   ]
  },
  {
   "width": 202, "height": 202,
   "title": {"text": "(b)", "orient": "bottom", "dx": 0, "offset": 21},
   "encoding": {
     "x": {"field": "x", "type": "quantitative", "scale": {"domain": [-30, 30], "nice": false, "zero": false}, "axis": null},
     "y": {"field": "y", "type": "quantitative", "scale": {"domain": [-30, 30], "nice": false, "zero": false}, "axis": {"offset": 45, "title": null}}
   },
   "layer": [
     {"data": {"name": "rings"}, "transform": [{"filter": "datum.ring < 0"}, {"calculate": "0", "as": "x"}, {"calculate": "0", "as": "y"}, {"calculate": "datum.ring + 30", "as": "rr"}], "mark": {"type": "point", "shape": "circle", "filled": false, "stroke": "#cfcfcf", "strokeWidth": 1, "opacity": 1}, "encoding": {"size": {"field": "rr", "type": "quantitative", "scale": {"type": "pow", "exponent": 2, "domain": [0, 30], "range": [0, 40804]}, "legend": null}}},
     {"data": {"name": "spokes"}, "transform": [{"calculate": "datum.ang * PI / 180", "as": "t"}, {"calculate": "5 * sin(datum.t)", "as": "x"}, {"calculate": "5 * cos(datum.t)", "as": "y"}, {"calculate": "30 * sin(datum.t)", "as": "x2"}, {"calculate": "30 * cos(datum.t)", "as": "y2"}], "mark": {"type": "rule", "color": "#a8a8a8", "strokeWidth": 1}, "encoding": {"x2": {"field": "x2"}, "y2": {"field": "y2"}}},
     {"data": {"name": "ticks"}, "transform": [{"calculate": "datum.ang * PI / 180", "as": "t"}, {"calculate": "29 * sin(datum.t)", "as": "x"}, {"calculate": "29 * cos(datum.t)", "as": "y"}, {"calculate": "30 * sin(datum.t)", "as": "x2"}, {"calculate": "30 * cos(datum.t)", "as": "y2"}], "mark": {"type": "rule", "color": "black", "strokeWidth": 1}, "encoding": {"x2": {"field": "x2"}, "y2": {"field": "y2"}}},
     {"data": {"name": "curves"}, "transform": [{"filter": "datum.p == 'b'"}, {"calculate": "max(0, datum.d + 30)", "as": "rr"}, {"calculate": "datum.rr * sin(datum.a * PI / 180)", "as": "x"}, {"calculate": "datum.rr * cos(datum.a * PI / 180)", "as": "y"}],
      "mark": {"type": "line", "strokeWidth": 1.6, "interpolate": "linear-closed"},
      "encoding": {
        "color": {"field": "s", "type": "nominal", "scale": {"domain": ["Simulated Co-pol", "Simulated Cross-pol", "Measured Co-pol", "Measured Cross-pol"], "range": ["#4a72c2", "#7c6fd4", "#e0700e", "#158f8a"]}, "legend": {"title": null, "symbolType": "M-1.5,0H1.5"}},
        "strokeDash": {"field": "s", "type": "nominal", "scale": {"domain": ["Simulated Co-pol", "Simulated Cross-pol", "Measured Co-pol", "Measured Cross-pol"], "range": [[6.7, 5.6], [6.7, 5.6], [1, 0], [1, 0]]}, "legend": {"title": null, "symbolType": "M-1.5,0H1.5"}},
        "order": {"value": null}
      }},
     {"data": {"name": "rings"}, "transform": [{"filter": "datum.ring == 0"}, {"calculate": "0", "as": "x"}, {"calculate": "0", "as": "y"}, {"calculate": "datum.ring + 30", "as": "rr"}], "mark": {"type": "point", "shape": "circle", "filled": false, "stroke": "black", "strokeWidth": 1.3, "opacity": 1}, "encoding": {"size": {"field": "rr", "type": "quantitative", "scale": {"type": "pow", "exponent": 2, "domain": [0, 30], "range": [0, 40804]}, "legend": null}}},
     {"data": {"name": "spokes"}, "transform": [{"calculate": "datum.ang * PI / 180", "as": "t"}, {"calculate": "datum.ang == 0 ? 33.6 : datum.ang == 180 ? 33.2 : datum.ang == 60 ? 34.2 : datum.ang == 120 ? 35.6 : 35.2", "as": "lr"}, {"calculate": "datum.lr * sin(datum.t)", "as": "x"}, {"calculate": "datum.lr * cos(datum.t)", "as": "y"}], "mark": {"type": "text", "font": "Liberation Serif", "fontSize": 14, "color": "black", "align": "center", "baseline": "middle"}, "encoding": {"text": {"field": "ang", "type": "nominal"}}}
   ]
  }
 ], "spacing": 113, "bounds": "flush"},
 {
   "width": 365, "height": 202,
   "title": {"text": "(c)", "orient": "bottom", "dx": 84, "offset": 21},
   "encoding": {
     "x": {"field": "x", "type": "quantitative", "scale": {"domain": [-78.4, 30], "nice": false, "zero": false}, "axis": null},
     "y": {"field": "y", "type": "quantitative", "scale": {"domain": [-30, 30], "nice": false, "zero": false}, "axis": {"offset": -118, "title": null}}
   },
   "layer": [
     {"data": {"name": "rings"}, "transform": [{"filter": "datum.ring < 0"}, {"calculate": "0", "as": "x"}, {"calculate": "0", "as": "y"}, {"calculate": "datum.ring + 30", "as": "rr"}], "mark": {"type": "point", "shape": "circle", "filled": false, "stroke": "#cfcfcf", "strokeWidth": 1, "opacity": 1}, "encoding": {"size": {"field": "rr", "type": "quantitative", "scale": {"type": "pow", "exponent": 2, "domain": [0, 30], "range": [0, 40804]}, "legend": null}}},
     {"data": {"name": "spokes"}, "transform": [{"calculate": "datum.ang * PI / 180", "as": "t"}, {"calculate": "5 * sin(datum.t)", "as": "x"}, {"calculate": "5 * cos(datum.t)", "as": "y"}, {"calculate": "30 * sin(datum.t)", "as": "x2"}, {"calculate": "30 * cos(datum.t)", "as": "y2"}], "mark": {"type": "rule", "color": "#a8a8a8", "strokeWidth": 1}, "encoding": {"x2": {"field": "x2"}, "y2": {"field": "y2"}}},
     {"data": {"name": "ticks"}, "transform": [{"calculate": "datum.ang * PI / 180", "as": "t"}, {"calculate": "29 * sin(datum.t)", "as": "x"}, {"calculate": "29 * cos(datum.t)", "as": "y"}, {"calculate": "30 * sin(datum.t)", "as": "x2"}, {"calculate": "30 * cos(datum.t)", "as": "y2"}], "mark": {"type": "rule", "color": "black", "strokeWidth": 1}, "encoding": {"x2": {"field": "x2"}, "y2": {"field": "y2"}}},
     {"data": {"name": "curves"}, "transform": [{"filter": "datum.p == 'c'"}, {"calculate": "max(0, datum.d + 30)", "as": "rr"}, {"calculate": "datum.rr * sin(datum.a * PI / 180)", "as": "x"}, {"calculate": "datum.rr * cos(datum.a * PI / 180)", "as": "y"}],
      "mark": {"type": "line", "strokeWidth": 1.6, "interpolate": "linear-closed"},
      "encoding": {
        "color": {"field": "s", "type": "nominal", "scale": {"domain": ["Simulated Co-pol", "Simulated Cross-pol", "Measured Co-pol", "Measured Cross-pol"], "range": ["#4a72c2", "#7c6fd4", "#e0700e", "#158f8a"]}, "legend": {"title": null, "symbolType": "M-1.5,0H1.5"}},
        "strokeDash": {"field": "s", "type": "nominal", "scale": {"domain": ["Simulated Co-pol", "Simulated Cross-pol", "Measured Co-pol", "Measured Cross-pol"], "range": [[6.7, 5.6], [6.7, 5.6], [1, 0], [1, 0]]}, "legend": {"title": null, "symbolType": "M-1.5,0H1.5"}},
        "order": {"value": null}
      }},
     {"data": {"name": "rings"}, "transform": [{"filter": "datum.ring == 0"}, {"calculate": "0", "as": "x"}, {"calculate": "0", "as": "y"}, {"calculate": "datum.ring + 30", "as": "rr"}], "mark": {"type": "point", "shape": "circle", "filled": false, "stroke": "black", "strokeWidth": 1.3, "opacity": 1}, "encoding": {"size": {"field": "rr", "type": "quantitative", "scale": {"type": "pow", "exponent": 2, "domain": [0, 30], "range": [0, 40804]}, "legend": null}}},
     {"data": {"name": "spokes"}, "transform": [{"calculate": "datum.ang * PI / 180", "as": "t"}, {"calculate": "datum.ang == 0 ? 33.6 : datum.ang == 180 ? 33.2 : datum.ang == 60 ? 34.2 : datum.ang == 120 ? 35.6 : 35.2", "as": "lr"}, {"calculate": "datum.lr * sin(datum.t)", "as": "x"}, {"calculate": "datum.lr * cos(datum.t)", "as": "y"}], "mark": {"type": "text", "font": "Liberation Serif", "fontSize": 14, "color": "black", "align": "center", "baseline": "middle"}, "encoding": {"text": {"field": "ang", "type": "nominal"}}}
   ]
 }
]
}
